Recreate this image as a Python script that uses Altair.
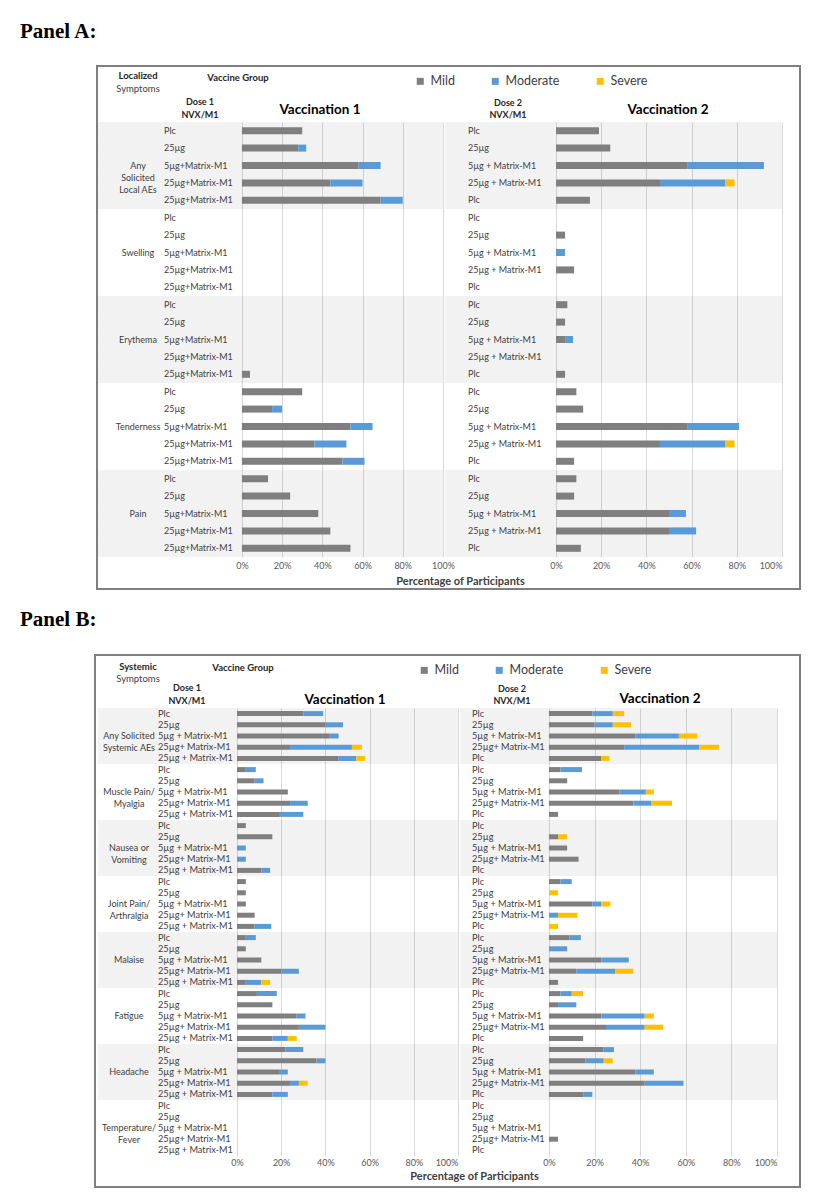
import altair as alt
import pandas as pd

# ------------------------------------------------------------------ data
SEVERITIES = ["Mild", "Moderate", "Severe"]
SEV_COLORS = ["#7f7f7f", "#5b9bd5", "#ffc000"]
TICKS = [0, 20, 40, 60, 80, 100]

A_SYMPTOMS = ["Any\nSolicited\nLocal AEs", "Swelling", "Erythema", "Tenderness", "Pain"]
A_DOSES_V1 = ["Plc", "25µg", "5µg+Matrix-M1", "25µg+Matrix-M1", "25µg+Matrix-M1"]
A_DOSES_V2 = ["Plc", "25µg", "5µg + Matrix-M1", "25µg + Matrix-M1", "Plc"]

A_V1_MILD = [30, 28, 58, 44, 69, 0, 0, 0, 0, 0, 0, 0, 0, 0, 4, 30, 15, 54, 36, 50, 13, 24, 38, 44, 54]
A_V1_MOD = [0, 4, 11, 16, 11, 0, 0, 0, 0, 0, 0, 0, 0, 0, 0, 0, 5, 11, 16, 11, 0, 0, 0, 0, 0]
A_V1_SEV = [0] * 25

A_V2_MILD = [19, 24, 58, 46, 15, 0, 4, 0, 8, 0, 5, 4, 4, 0, 4, 9, 12, 58, 46, 8, 9, 8, 50, 50, 11]
A_V2_MOD = [0, 0, 34, 29, 0, 0, 0, 4, 0, 0, 0, 0, 3.5, 0, 0, 0, 0, 23, 29, 0, 0, 0, 7.5, 12, 0]
A_V2_SEV = [0, 0, 0, 4, 0, 0, 0, 0, 0, 0, 0, 0, 0, 0, 0, 0, 0, 0, 4, 0, 0, 0, 0, 0, 0]

B_SYMPTOMS = ["Any Solicited\nSystemic AEs", "Muscle Pain/\nMyalgia", "Nausea or\nVomiting",
              "Joint Pain/\nArthralgia", "Malaise", "Fatigue", "Headache", "Temperature/\nFever"]
B_DOSES_V1 = ["Plc", "25µg", "5µg + Matrix-M1", "25µg+ Matrix-M1", "25µg + Matrix-M1"]
B_DOSES_V2 = ["Plc", "25µg", "5µg + Matrix-M1", "25µg+ Matrix-M1", "Plc"]

B_V1_MILD = [30, 40, 42, 24, 46, 4, 8, 23, 24, 19, 4, 16, 0, 0, 11, 4, 4, 4, 8, 8,
             4, 4, 11, 20, 4, 9, 16, 27, 28, 16, 22, 36, 19, 24, 16, 0, 0, 0, 0, 0]
B_V1_MOD = [9, 8, 4, 28, 8, 4.5, 4, 0, 8, 11, 0, 0, 4, 4, 4, 0, 0, 0, 0, 7.5,
            4.5, 0, 0, 8, 7, 9, 0, 4, 12, 7, 8, 4, 4, 4, 7, 0, 0, 0, 0, 0]
B_V1_SEV = [0, 0, 0, 4.5, 4, 0, 0, 0, 0, 0, 0, 0, 0, 0, 0, 0, 0, 0, 0, 0,
            0, 0, 0, 0, 4, 0, 0, 0, 0, 4, 0, 0, 0, 4, 0, 0, 0, 0, 0, 0]

B_V2_MILD = [19, 20, 38, 33, 23, 5, 8, 31, 37, 4, 0, 4, 8, 13, 0, 5, 0, 19, 0, 0,
             9, 0, 23, 12, 4, 5, 4, 23, 25, 15, 24, 16, 38, 42, 15, 0, 0, 0, 4, 0]
B_V2_MOD = [9, 8, 19, 33, 0, 9.5, 0, 11.5, 8, 0, 0, 0, 0, 0, 0, 5, 0, 4, 4, 0,
            5, 8, 12, 17, 0, 5, 8, 19, 17, 0, 4.5, 8, 8, 17, 4, 0, 0, 0, 0, 0]
B_V2_SEV = [5, 8, 8, 8.5, 3.5, 0, 0, 3.5, 9, 0, 0, 4, 0, 0, 0, 0, 4, 4, 8.5, 4,
            0, 0, 0, 8, 0, 5, 0, 4, 8, 0, 0, 4, 0, 0, 0, 0, 0, 0, 0, 0]

# ------------------------------------------------------------------ helpers
FONT = "Lato"
SERIF = "Liberation Serif"
DUMMY = pd.DataFrame({"d": [0]})


def text_layer(txt, x, y, size, bold=False, color="#262626", align="center", font=FONT):
    return alt.Chart(DUMMY).mark_text(
        align=align, baseline="middle", font=font, fontSize=size,
        fontWeight="bold" if bold else "normal", color=color,
    ).encode(x=alt.value(x), y=alt.value(y), text=alt.value(txt))


def half(symptoms, doses, mild, moderate, severe, *, width, height, xdomain, dose_x,
         label_size, bar_size, shade=(0, None), legend_xy=None, symptom_x=None, symptom_size=9,
         headers=(), title=None, box=None, label_pad=4):
    n = len(mild)
    per = len(doses)
    rows = pd.DataFrame({
        "row": list(range(n)),
        "group": [i // per for i in range(n)],
        "dose": [doses[i % per] for i in range(n)],
    })
    recs = []
    for k, (sev, vals) in enumerate(zip(SEVERITIES, [mild, moderate, severe])):
        for i, v in enumerate(vals):
            if v > 0:
                recs.append({"row": i, "severity": sev, "k": k, "pct": v})
    long = pd.DataFrame(recs)

    yenc = alt.Y("row:O", scale=alt.Scale(domain=list(range(n)), paddingInner=0, paddingOuter=0), axis=None)

    axis_kw = dict(values=TICKS, labelExpr="datum.value + '%'", grid=True, gridColor="#d9d9d9",
                   domain=False, ticks=False, labelColor="#595959", labelFontSize=9,
                   labelFont=FONT, labelPadding=label_pad)
    if title is not None:
        axis_kw.update(title=title[0], titleX=title[1], titleY=title[2], titleAlign="center",
                       titleBaseline="middle", titleFont=FONT, titleFontSize=11,
                       titleColor="#404040", titleFontWeight="bold")
    else:
        axis_kw.update(title=None)

    if legend_xy is not None:
        legend = alt.Legend(orient="none", legendX=legend_xy[0], legendY=legend_xy[1],
                            direction="horizontal", title=None, symbolType="square",
                            symbolSize=49, symbolStrokeWidth=0, labelFontSize=12.5,
                            labelFont=FONT, labelColor="#404040", columnPadding=34,
                            labelOffset=4)
    else:
        legend = None

    shade_x1 = width if shade[1] is None else shade[1]

    layers = []
    if box is not None:
        layers.append(alt.Chart(DUMMY).mark_rect(filled=False, color="#7f7f7f", strokeWidth=2).encode(
            x=alt.value(box[0]), x2=alt.value(box[1]), y=alt.value(box[2]), y2=alt.value(box[3])))
    layers.append(alt.Chart(rows).transform_filter("datum.group % 2 == 0").mark_rect(
        color="#000000", opacity=0.05).encode(y=yenc, x=alt.value(shade[0]), x2=alt.value(shade_x1)))
    layers.append(alt.Chart(long).mark_bar(size=bar_size).encode(
        x=alt.X("pct:Q", stack="zero", scale=alt.Scale(domain=list(xdomain), nice=False, zero=False),
                axis=alt.Axis(**axis_kw)),
        y=yenc,
        color=alt.Color("severity:N", scale=alt.Scale(domain=SEVERITIES, range=SEV_COLORS),
                        legend=legend),
        order=alt.Order("k:Q"),
    ))
    layers.append(alt.Chart(rows).mark_text(
        align="left", baseline="middle", font=FONT, fontSize=label_size, color="#404040").encode(
        y=yenc, x=alt.value(dose_x), text="dose:N"))
    if symptom_x is not None:
        sym = pd.DataFrame({"row": [g * per + 2 for g in range(len(symptoms))], "symptom": symptoms})
        layers.append(alt.Chart(sym).mark_text(
            align="center", baseline="middle", font=FONT, fontSize=symptom_size, color="#404040",
            lineBreak="\n", lineHeight=symptom_size + 3).encode(
            y=yenc, x=alt.value(symptom_x), text="symptom:N"))
    for h in headers:
        layers.append(text_layer(*h[:3], **h[3]))
    return alt.layer(*layers).properties(width=width, height=height)


A1 = half(A_SYMPTOMS, A_DOSES_V1, A_V1_MILD, A_V1_MOD, A_V1_SEV,
          width=360, height=435, xdomain=(-71.6, 107.5), dose_x=66, label_size=9, bar_size=7,
          shade=(0, 345), legend_xy=(316, -47), symptom_x=40, symptom_size=9,
          box=(-1, 702, -56, 467),
          title=("Percentage of Participants", 362, 24),
          headers=[
              ("Panel A:", -78, -90, dict(size=21, bold=True, color="#000000", align="left", font=SERIF)),
              ("Localized", 40, -46, dict(size=9.5, bold=True)),
              ("Symptoms", 40, -33, dict(size=9.5, color="#404040")),
              ("Vaccine Group", 140, -44, dict(size=9.5, bold=True)),
              ("Dose 1", 102, -20, dict(size=9, bold=True)),
              ("NVX/M1", 102, -7, dict(size=9, bold=True)),
              ("Vaccination 1", 222, -12, dict(size=13.5, bold=True, color="#000000")),
          ])
A2 = half(A_SYMPTOMS, A_DOSES_V2, A_V2_MILD, A_V2_MOD, A_V2_SEV,
          width=322, height=435, xdomain=(-42.5, 100), dose_x=8, label_size=9, bar_size=7,
          shade=(-15, 322),
          headers=[
              ("Dose 2", 48, -19, dict(size=9, bold=True)),
              ("NVX/M1", 48, -7, dict(size=9, bold=True)),
              ("Vaccination 2", 208, -12, dict(size=13.5, bold=True, color="#000000")),
          ])

B1 = half(B_SYMPTOMS, B_DOSES_V1, B_V1_MILD, B_V1_MOD, B_V1_SEV,
          width=360, height=448, xdomain=(-62.9, 100), dose_x=60, label_size=9.2, bar_size=5,
          legend_xy=(320, -44), symptom_x=31, symptom_size=9, box=(-3, 702, -53, 479),
          title=("Percentage of Participants", 376, 20), label_pad=2,
          headers=[
              ("Panel B:", -78, -88, dict(size=21, bold=True, color="#000000", align="left", font=SERIF)),
              ("Systemic", 40, -41, dict(size=9.5, bold=True)),
              ("Symptoms", 40, -29, dict(size=9.5, color="#404040")),
              ("Vaccine Group", 145, -40, dict(size=9.5, bold=True)),
              ("Dose 1", 89, -20, dict(size=9, bold=True)),
              ("NVX/M1", 89, -7, dict(size=9, bold=True)),
              ("Vaccination 1", 247, -8, dict(size=13.5, bold=True, color="#000000")),
          ])
B2 = half(B_SYMPTOMS, B_DOSES_V2, B_V2_MILD, B_V2_MOD, B_V2_SEV,
          width=317, height=448, xdomain=(-39.0, 100), dose_x=12, label_size=9.2, bar_size=5,
          label_pad=2,
          headers=[
              ("Dose 2", 52, -19, dict(size=9, bold=True)),
              ("NVX/M1", 52, -7, dict(size=9, bold=True)),
              ("Vaccination 2", 200, -9, dict(size=13.5, bold=True, color="#000000")),
          ])

chart = alt.concat(
    A1, A2, B1, B2, columns=2,
    spacing={"row": 151, "column": 2}, bounds="flush",
    align={"row": "each", "column": "none"},
).resolve_scale(
    x="independent", y="independent", color="independent"
).resolve_legend(color="independent").properties(
    padding={"left": 12, "top": 13, "right": 5, "bottom": 0}, background="white"
).configure_view(strokeWidth=0)

chart.save("out.html", embed_options={"renderer": "svg", "actions": False})
